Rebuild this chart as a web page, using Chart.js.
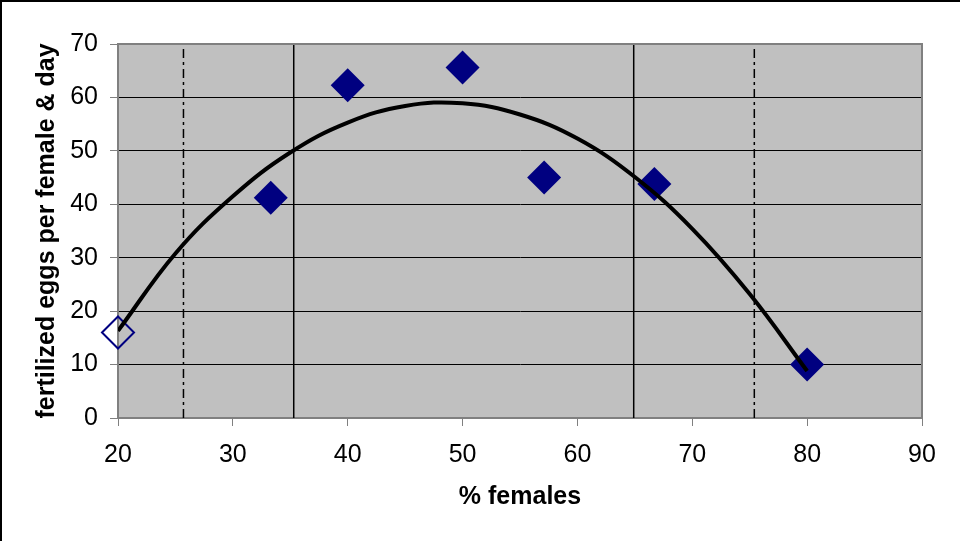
<!DOCTYPE html>
<html lang="en">
<head>
  <meta charset="UTF-8" />
  <title>Fertilized eggs vs % females</title>
  <script src="https://cdn.jsdelivr.net/npm/chart.js"></script>
  <style>
    body { margin: 0; background: #fff; }
    #eggChart { display: block; }
  </style>
</head>
<body>
  <canvas id="eggChart" width="960" height="541"></canvas>

  <script>
    // measured values
    const femalesPct    = [33.3, 40, 50, 57.1, 66.7, 80];
    const eggsPerFemale = [41.2, 62.3, 65.6, 45, 43.8, 10];
    // the open (excluded) point
    const outlierPct  = [20];
    const outlierEggs = [16];

    // trend curve
    const trendPct  = [20, 25, 30, 35, 40, 45, 50, 55, 60, 65, 70, 75, 80];
    const trendEggs = [16.3, 30.8, 41.5, 49.7, 55.3, 58.4, 58.9, 56.8, 52.3, 45.1, 35.4, 23.2, 8.8];

    // vertical marker lines
    const solidLines   = [35.3, 64.9];
    const dashDotLines = [25.7, 75.4];

    const xMin = 20, xMax = 90, xStep = 10;
    const yMin = 0,  yMax = 70, yStep = 10;

    const FONT = '"Liberation Sans", Arial, sans-serif';

    function pts(xs, ys) { return xs.map((x, i) => ({ x: x, y: ys[i] })); }
    function vline(x) { return [{ x: x, y: yMin }, { x: x, y: yMax }]; }

    const datasets = [];
    // trend curve on top
    datasets.push({
      data: pts(trendPct, trendEggs),
      showLine: true, borderColor: '#000', borderWidth: 4,
      pointRadius: 0, tension: 0.4,
      order: 0
    });
    datasets.push({
      data: pts(femalesPct, eggsPerFemale),
      pointStyle: 'rectRot', pointRadius: 17,
      backgroundColor: '#000080', borderColor: '#000080', borderWidth: 0,
      clip: false, order: 1
    });
    datasets.push({
      data: pts(outlierPct, outlierEggs),
      pointStyle: 'rectRot', pointRadius: 16,
      backgroundColor: 'rgba(0,0,0,0)', borderColor: '#000080', borderWidth: 2,
      clip: false, order: 1
    });
    solidLines.forEach(x => datasets.push({
      data: vline(x), showLine: true, borderColor: '#000', borderWidth: 1.5,
      pointRadius: 0, order: 2
    }));
    dashDotLines.forEach(x => datasets.push({
      data: vline(x), showLine: true, borderColor: '#000', borderWidth: 1.5,
      borderDash: [9, 4, 3, 4], pointRadius: 0, order: 2
    }));

    // grey plot background, plot frame and outer frame
    const framePlugin = {
      id: 'frame',
      beforeDraw(chart) {
        const { ctx, chartArea: a } = chart;
        ctx.save();
        ctx.fillStyle = '#c0c0c0';
        ctx.fillRect(a.left, a.top, a.right - a.left, a.bottom - a.top);
        ctx.strokeStyle = '#000';
        ctx.lineWidth = 2;
        ctx.beginPath();
        ctx.moveTo(1, chart.height);
        ctx.lineTo(1, 1);
        ctx.lineTo(chart.width, 1);
        ctx.stroke();
        ctx.restore();
      },
      afterDatasetsDraw(chart) {
        const { ctx, chartArea: a } = chart;
        ctx.save();
        ctx.strokeStyle = '#808080';
        ctx.lineWidth = 2;
        ctx.beginPath();
        ctx.moveTo(a.left, a.top);
        ctx.lineTo(a.right, a.top);
        ctx.lineTo(a.right, a.bottom);
        ctx.stroke();
        ctx.restore();
      }
    };

    new Chart(document.getElementById('eggChart'), {
      type: 'scatter',
      data: { datasets: datasets },
      options: {
        responsive: false,
        animation: false,
        events: [],
        layout: { padding: { top: 44, right: 38, left: 0, bottom: 0 } },
        plugins: { legend: { display: false }, tooltip: { enabled: false } },
        scales: {
          x: {
            type: 'linear', min: xMin, max: xMax,
            afterFit: s => { s.height = 123; },
            ticks: { stepSize: xStep, color: '#000', padding: 14,
                     font: { family: FONT, size: 25 } },
            grid: { drawOnChartArea: false, tickLength: 8, color: '#808080' },
            border: { color: '#808080', width: 2 },
            title: { display: true, text: '% females', color: '#000',
                     padding: { top: 0, bottom: 29 },
                     font: { family: FONT, size: 25, weight: 'bold' } }
          },
          y: {
            min: yMin, max: yMax,
            afterFit: s => { s.width = 118; },
            ticks: { stepSize: yStep, color: '#000', padding: 12,
                     font: { family: FONT, size: 25 } },
            grid: { color: '#000', lineWidth: 1, tickLength: 8, tickColor: '#808080' },
            border: { color: '#808080', width: 2 },
            title: { display: true, text: 'fertilized eggs per female & day', color: '#000',
                     padding: { top: 32, bottom: 0 },
                     font: { family: FONT, size: 25, weight: 'bold' } }
          }
        }
      },
      plugins: [framePlugin]
    });
  </script>
</body>
</html>
